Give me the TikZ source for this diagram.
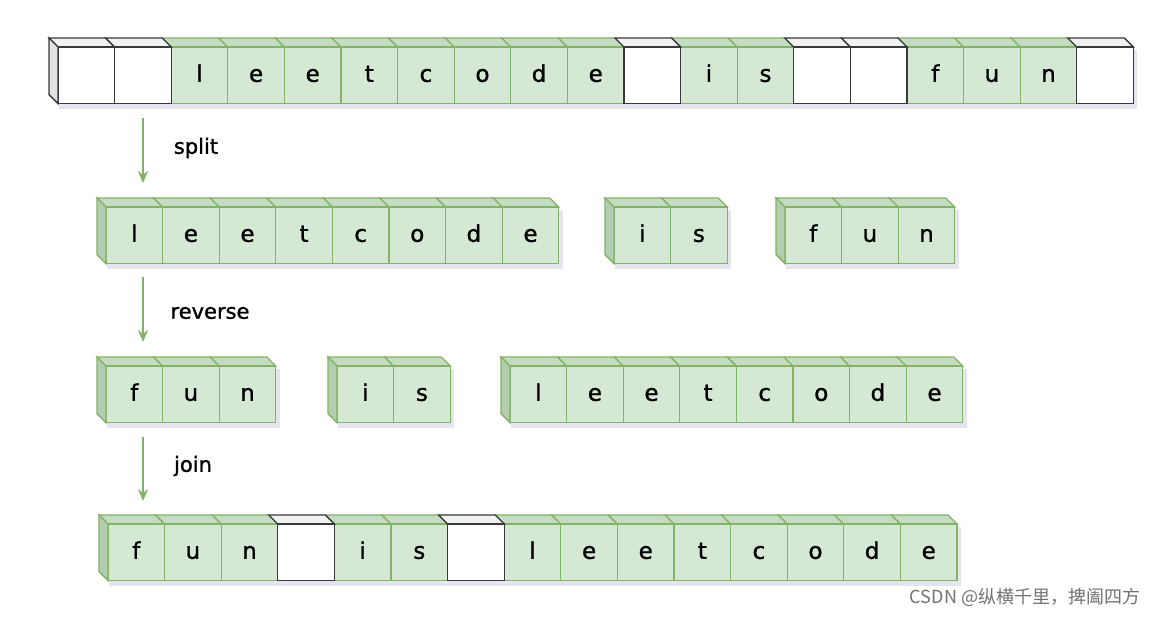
\documentclass[tikz,border=0pt]{standalone}
\usepackage{fontspec}
\setmainfont{DejaVu Sans}[FakeBold=1.2]
\newfontfamily\cjkfont{Noto Sans CJK SC}
\usetikzlibrary{arrows.meta,positioning}

\definecolor{faceg}{HTML}{D5E8D4}
\definecolor{topg}{HTML}{C4DCC2}
\definecolor{sideg}{HTML}{B3CDB1}
\definecolor{lineg}{HTML}{82B366}
\definecolor{facew}{HTML}{FFFFFF}
\definecolor{topw}{HTML}{F2F2F2}
\definecolor{sidew}{HTML}{E2E2E2}
\definecolor{linew}{HTML}{36393D}
\definecolor{shadowc}{HTML}{E4E5EE}

\newcommand\cw{56.6}
\newcommand\cd{9}

\tikzset{
  cellface/.style={rectangle, minimum size=56.6pt, inner sep=0pt, line width=1.3pt,
    text height=13pt, text depth=0pt, font=\fontsize{23}{26}\selectfont},
  stepname/.style={font=\fontsize{21}{24}\selectfont},
  flow/.style={draw=lineg, line width=2pt, -{Stealth[length=12pt,width=10pt]}},
}

% one cube: x, y (front top left), colour key, letter, node name
\newcommand\cubecell[5]{%
  \draw[line width=1.3pt, draw=line#3, fill=top#3] ({#1},{#2}) -- ({#1+\cw},{#2})
    -- ({#1+\cw-\cd},{#2-\cd}) -- ({#1-\cd},{#2-\cd}) -- cycle;
  \node[cellface, draw=line#3, fill=face#3] (#5) at ({#1+\cw/2},{#2+\cw/2}) {#4};
}
\newcommand\cubeside[3]{%
  \draw[line width=1.3pt, draw=line#3, fill=side#3] ({#1},{#2}) -- ({#1-\cd},{#2-\cd})
    -- ({#1-\cd},{#2+\cw-\cd}) -- ({#1},{#2+\cw}) -- cycle;
}
% a row of cubes: x0, y0, number of cells, name, cells
\newcommand\cubeblock[5]{%
  \fill[shadowc] ({#1+1},{#2+3}) rectangle ({#1+#3*\cw+4},{#2+\cw+5});
  \foreach \f/\c [count=\i from 0] in {#5} {
    \if\f g
      \cubecell{#1+\i*\cw}{#2}{\f}{\c}{#4\i}
      \ifnum\i=0 \cubeside{#1}{#2}{\f}\fi
    \fi
  }
  \foreach \f/\c [count=\i from 0] in {#5} {
    \if\f w
      \cubecell{#1+\i*\cw}{#2}{\f}{\c}{#4\i}
      \ifnum\i=0 \cubeside{#1}{#2}{\f}\fi
    \fi
  }
}

\begin{document}
\begin{tikzpicture}[x=1pt,y=-1pt]
\useasboundingbox[fill=white] (0,0) rectangle (1166,616);

% original string
\cubeblock{58}{47}{19}{s}{w/{},w/{},g/l,g/e,g/e,g/t,g/c,g/o,g/d,g/e,w/{},g/i,g/s,w/{},w/{},g/f,g/u,g/n,w/{}}

% after split
\cubeblock{106}{207}{8}{wa}{g/l,g/e,g/e,g/t,g/c,g/o,g/d,g/e}
\cubeblock{614}{207}{2}{wb}{g/i,g/s}
\cubeblock{785}{207}{3}{wc}{g/f,g/u,g/n}

% after reverse
\cubeblock{106}{366}{3}{ra}{g/f,g/u,g/n}
\cubeblock{337}{366}{2}{rb}{g/i,g/s}
\cubeblock{510}{366}{8}{rc}{g/l,g/e,g/e,g/t,g/c,g/o,g/d,g/e}

% after join
\cubeblock{108}{524}{15}{j}{g/f,g/u,g/n,w/{},g/i,g/s,w/{},g/l,g/e,g/e,g/t,g/c,g/o,g/d,g/e}

% steps
\coordinate (a1) at (143,118);
\coordinate (b1) at (143,183);
\coordinate (a2) at (143,277);
\coordinate (b2) at (143,342);
\coordinate (a3) at (143,437);
\coordinate (b3) at (143,501);
\draw[flow] (a1) -- (b1);
\draw[flow] (a2) -- (b2);
\draw[flow] (a3) -- (b3);
\node[stepname] (split) at (196,148) {split};
\node[stepname] (reverse) at (210,313) {reverse};
\node[stepname] (join) at (193,466) {join};

\node[font=\cjkfont\fontsize{18}{20}\selectfont, text=black!55] (mark) at (1025,597) {CSDN @纵横千里，捭阖四方};
\end{tikzpicture}
\end{document}
